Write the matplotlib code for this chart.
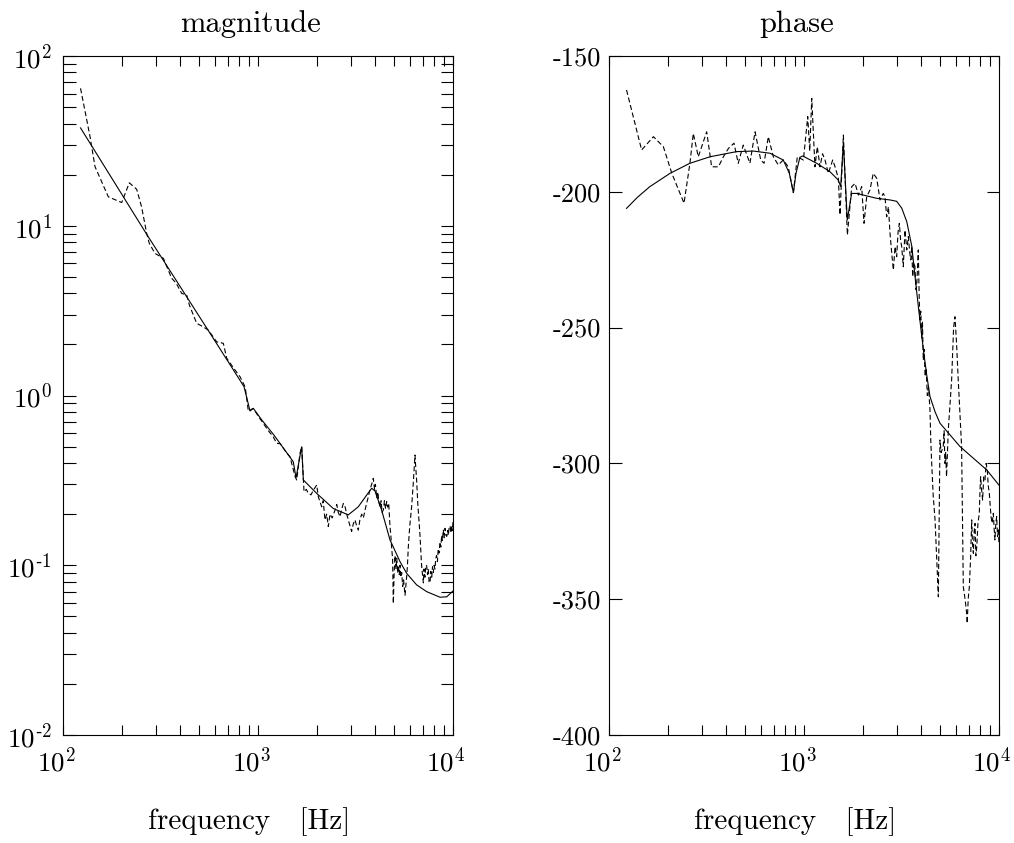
import matplotlib
matplotlib.use('Agg')
import matplotlib.pyplot as plt
from matplotlib.ticker import FixedLocator, FixedFormatter, NullFormatter
from matplotlib.transforms import ScaledTranslation

plt.rcParams['mathtext.fontset'] = 'cm'
plt.rcParams['axes.unicode_minus'] = False
plt.rcParams['axes.formatter.use_mathtext'] = True

# ---------------- data ----------------
mag_fit_f = [123, 268.7, 590, 847, 880, 910, 946, 1000, 1045, 1200, 1350, 1517, 1567, 1675, 1708,
             2000, 2432, 2904, 3268, 3608, 3828, 3981, 4306, 4753, 5350, 5785, 6510, 7330, 8580,
             9290, 10000]
mag_fit = [37.7, 8.9, 2.17, 1.13, 0.95, 0.81, 0.84, 0.77, 0.718, 0.59, 0.49, 0.407, 0.327, 0.50, 0.318,
           0.265, 0.216, 0.198, 0.221, 0.259, 0.284, 0.274, 0.211, 0.141, 0.105, 0.0896, 0.0766,
           0.0699, 0.0648, 0.0652, 0.0705]

mag_meas_f = [123, 137.6, 145.9, 170.8, 200, 218.8, 238.7, 253, 268.7, 277, 296, 327, 361, 380,
              406, 431, 445, 485, 520, 556, 614, 664, 691, 750, 809, 860, 892, 946, 1000, 1064,
              1130, 1197, 1247, 1300, 1349, 1400, 1459, 1549, 1579, 1642, 1675, 1722, 1770, 1811,
              1870, 1923, 2000, 2039, 2122, 2160, 2206, 2250, 2294, 2339, 2400, 2483, 2534, 2580,
              2634, 2690, 2738, 2800, 2850, 2904, 2960, 3020, 3080, 3143, 3200, 3268, 3330, 3402,
              3470, 3538, 3600, 3680, 3750, 3828, 3902, 3960, 4000, 4063, 4120, 4170, 4227, 4280,
              4330, 4395, 4450, 4510, 4570, 4620, 4680, 4753, 4800, 4853, 4900, 4943, 4990, 5045,
              5100, 5150, 5200, 5248, 5300, 5350, 5400, 5457, 5520, 5580, 5675, 5730, 5785, 5840,
              5902, 6000, 6138, 6250, 6330, 6385, 6420, 6510, 6600, 6770, 6900, 7046, 7100, 7180,
              7250, 7330, 7400, 7470, 7540, 7621, 7700, 7780, 7850, 7925, 8000, 8080, 8160, 8240,
              8320, 8400, 8480, 8580, 8660, 8750, 8830, 8918, 9000, 9100, 9200, 9290, 9380, 9470,
              9560, 9660, 9750, 9840, 9920, 10000]
mag_meas = [64.5, 33.5, 22.3, 14.8, 13.7, 17.9, 16.4, 12.9, 9.0, 7.88, 6.88, 6.43, 4.9, 4.6,
            4.0, 3.9, 3.4, 2.66, 2.55, 2.43, 2.07, 2.03, 1.66, 1.45, 1.29, 1.12, 0.81, 0.84, 0.76, 0.686,
            0.62, 0.571, 0.523, 0.52, 0.489, 0.46, 0.436, 0.333, 0.318, 0.457, 0.50, 0.271, 0.28, 0.265,
            0.26, 0.277, 0.297, 0.253, 0.221, 0.24, 0.185, 0.2, 0.169, 0.2, 0.19, 0.211, 0.228, 0.205,
            0.193, 0.215, 0.231, 0.22, 0.2, 0.185, 0.17, 0.158, 0.175, 0.185, 0.172, 0.161, 0.185, 0.2,
            0.19, 0.211, 0.23, 0.253, 0.278, 0.30, 0.325, 0.28, 0.30, 0.25, 0.27, 0.235, 0.22, 0.24,
            0.205, 0.212, 0.24, 0.215, 0.237, 0.22, 0.232, 0.169, 0.15, 0.1235, 0.11, 0.0595, 0.09, 0.114,
            0.095, 0.11, 0.09, 0.0993, 0.088, 0.1, 0.085, 0.0905, 0.075, 0.082, 0.0666, 0.075, 0.0857, 0.1,
            0.129, 0.17, 0.222, 0.3, 0.38, 0.446, 0.4, 0.315, 0.23, 0.151, 0.1, 0.0787, 0.095, 0.085,
            0.1, 0.0993, 0.088, 0.095, 0.08, 0.0787, 0.092, 0.085, 0.098, 0.0905, 0.1, 0.095, 0.11, 0.114,
            0.105, 0.125, 0.118, 0.137, 0.128, 0.15, 0.14, 0.162, 0.145, 0.165, 0.15, 0.148, 0.16, 0.15,
            0.17, 0.169, 0.155, 0.172, 0.16, 0.18]

ph_fit_f = [123, 140, 162, 205.6, 260, 329.6, 451.5, 550, 669, 783, 841, 882, 910, 953, 985, 1161,
            1359, 1500, 1542, 1592, 1667, 1755, 1862, 2359, 2761, 2987, 3170, 3365, 3570, 3707,
            3855, 4015, 4092, 4250, 4427, 4700, 4981, 6310, 8650, 10000]
ph_fit = [-206.1, -202.0, -198.1, -193.2, -189.5, -187.1, -185.2, -185.0, -185.8, -188.3, -193.2,
          -200.3, -193.2, -187.3, -186.8, -189.5, -192.6, -195.7, -198.1, -182.1, -210.4, -200.6,
          -200.6, -202.4, -203.0, -203.5, -206.0, -211.0, -220.0, -231.0, -242.0, -253.0, -258.0,
          -267.0, -275.4, -281.0, -285.2, -293.8, -302.4, -308.0]

ph_meas_f = [123, 147, 169, 190, 210, 242.5, 260, 270.6, 287, 317, 336, 364, 386, 410, 437.5, 460,
             488, 528, 561, 600, 624, 656, 696, 738, 783, 830, 882, 924, 993, 1045, 1070, 1096, 1117,
             1138, 1170, 1208, 1245, 1282, 1333, 1403, 1443, 1500, 1530, 1592, 1669, 1757, 1828, 1901,
             1976, 2031, 2097, 2180, 2265, 2359, 2454, 2550, 2602, 2655, 2710, 2761, 2818, 2872, 2930,
             2987, 3035, 3083, 3130, 3170, 3230, 3296, 3365, 3429, 3480, 3527, 3570, 3608, 3660, 3707,
             3750, 3784, 3820, 3855, 3900, 3935, 3970, 4015, 4050, 4090, 4130, 4180, 4230, 4290, 4350,
             4427, 4470, 4517, 4600, 4699, 4790, 4886, 4981, 5050, 5176, 5230, 5281, 5330, 5383, 5495,
             5715, 5850, 5943, 6050, 6180, 6430, 6500, 6561, 6700, 6825, 6870, 6950, 7046, 7150, 7245,
             7320, 7389, 7460, 7534, 7610, 7690, 7800, 7925, 7990, 8050, 8150, 8240, 8350, 8474, 8590,
             8710, 8800, 8918, 9000, 9100, 9220, 9350, 9440, 9530, 9630, 9730, 9830, 9930, 10000]
ph_meas = [-162.5, -184.6, -179.7, -183.4, -193.2, -204.2, -189.5, -178.5, -187.1, -177.9, -190.8,
           -190.8, -187.1, -184.0, -182.1, -189.5, -182.8, -189.5, -177.9, -188.3, -189.5, -179.7,
           -187.1, -190.1, -188.3, -190.8, -200.3, -187.1, -188.3, -172.3, -185.0, -165.6, -178.5,
           -190.8, -183.4, -190.8, -186.0, -188.3, -193.2, -188.3, -190.8, -195.0, -208.5, -179.1,
           -215.9, -198.1, -196.9, -201.2, -198.1, -211.6, -201.8, -199.3, -193.2, -195.0, -203.0,
           -200.6, -201.8, -209.2, -205.5, -215.3, -222.6, -228.8, -220.2, -223.9, -215.0, -211.6,
           -218.0, -220.2, -227.6, -214.1, -221.4, -216.5, -222.0, -225.1, -220.0, -231.3, -226.0,
           -227.6, -236.0, -234.9, -228.0, -221.4, -239.8, -247.2, -244.0, -254.0, -248.0, -262.0,
           -258.0, -268.0, -265.0, -275.0, -272.0, -280.3, -292.0, -300.0, -312.0, -320.8, -335.0,
           -349.1, -291.4, -296.0, -293.8, -288.0, -300.0, -296.0, -304.9, -287.7, -269.3, -250.0,
           -246.0, -255.0, -269.3, -293.8, -320.0, -345.4, -350.0, -355.2, -358.9, -350.0, -345.4,
           -335.0, -320.8, -330.0, -333.1, -325.0, -322.1, -334.0, -330.7, -322.0, -318.4, -310.0,
           -304.9, -310.0, -313.5, -305.0, -306.1, -300.0, -302.4, -308.0, -311.0, -315.0, -319.6,
           -322.0, -318.4, -324.0, -328.2, -322.0, -319.6, -327.0, -324.5, -330.0]

x_major = [1e2, 1e3, 1e4]
x_labels = [r'$10^{2}$', r'$10^{3}$', r'$10^{4}$']
mag_major = [1e-2, 1e-1, 1e0, 1e1, 1e2]
mag_labels = ['$10^{\u20102}$', '$10^{\u20101}$', r'$10^{0}$', r'$10^{1}$', r'$10^{2}$']
ph_major = [-400, -350, -300, -250, -200, -150]
ph_labels = ['-400', '-350', '-300', '-250', '-200', '-150']

# ---------------- figure ----------------
W, H = 1014, 843
fig = plt.figure(figsize=(W / 100, H / 100), dpi=100)
ax1 = fig.add_axes([63 / W, 1 - 735 / H, 390 / W, 679 / H])
ax2 = fig.add_axes([609 / W, 1 - 735 / H, 390 / W, 679 / H])

solid_kw = dict(color='black', lw=0.8, solid_joinstyle='miter')
dash_kw = dict(color='black', lw=0.8, linestyle=(0, (4.5, 2.5)))

ax1.plot(mag_meas_f, mag_meas, **dash_kw)
ax1.plot(mag_fit_f, mag_fit, **solid_kw)
ax2.plot(ph_meas_f, ph_meas, **dash_kw)
ax2.plot(ph_fit_f, ph_fit, **solid_kw)

minor_x = [m * 10 ** e for e in (2, 3) for m in range(2, 10)]
for ax in (ax1, ax2):
    ax.set_xscale('log')
    ax.set_xlim(1e2, 1e4)
    ax.xaxis.set_major_locator(FixedLocator(x_major))
    ax.xaxis.set_major_formatter(FixedFormatter(x_labels))
    ax.xaxis.set_minor_locator(FixedLocator(minor_x))
    ax.xaxis.set_minor_formatter(NullFormatter())
    ax.tick_params(axis='x', which='both', direction='in', top=True, bottom=True,
                   length=7, width=0.8, pad=9, labelsize=19.5)
    for s in ax.spines.values():
        s.set_linewidth(0.8)
    off = ScaledTranslation(-0.07, 0, fig.dpi_scale_trans)
    for lbl in ax.get_xticklabels():
        lbl.set_transform(lbl.get_transform() + off)

ax1.set_yscale('log')
ax1.set_ylim(1e-2, 1e2)
ax1.yaxis.set_major_locator(FixedLocator(mag_major))
ax1.yaxis.set_major_formatter(FixedFormatter(mag_labels))
minor_y = [m * 10.0 ** e for e in (-2, -1, 0, 1) for m in range(2, 10)]
ax1.yaxis.set_minor_locator(FixedLocator(minor_y))
ax1.yaxis.set_minor_formatter(NullFormatter())
ax1.tick_params(axis='y', which='both', direction='in', left=True, right=True,
                length=9, width=0.8, pad=8, labelsize=19.5)

ax2.set_ylim(-400, -150)
ax2.yaxis.set_major_locator(FixedLocator(ph_major))
ax2.yaxis.set_major_formatter(FixedFormatter(ph_labels))
ax2.tick_params(axis='y', which='major', direction='in', left=True, right=True,
                length=9, width=0.8, pad=6, labelsize=19)
for lbl in ax2.get_yticklabels():
    lbl.set_fontfamily('cmr10')

ax1.set_title('magnitude', fontfamily='cmr10', fontsize=22, pad=17, x=0.481)
ax2.set_title('phase', fontfamily='cmr10', fontsize=22, pad=17, x=0.481)
for ax in (ax1, ax2):
    ax.set_xlabel('frequency   [Hz]', fontfamily='cmr10', fontsize=21)
    ax.xaxis.set_label_coords(0.478, -0.106)

fig.savefig('out.png', dpi=100)
